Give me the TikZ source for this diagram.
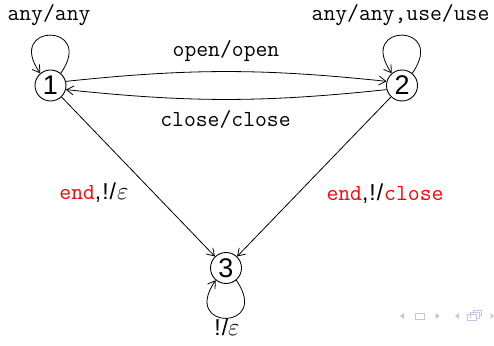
\documentclass[tikz,border=0pt]{standalone}
\usepackage{fontspec}
\setmainfont{Liberation Sans}
\setsansfont{Liberation Sans}
\usetikzlibrary{arrows.meta}
\definecolor{navc}{RGB}{195,195,235}
\newcommand{\punct}[1]{{\sffamily\fontsize{23}{26}\selectfont #1}}
\tikzset{
  state/.style={circle, draw, line width=0.9pt, minimum size=31pt, inner sep=0pt,
    font=\sffamily\fontsize{27}{27}\selectfont},
  lbl/.style={anchor=base, inner sep=0pt, font=\ttfamily\fontsize{23}{26}\selectfont},
  edge/.style={line width=0.8pt, -{Straight Barb[length=7pt,width=9pt]}},
}
\begin{document}
\begin{tikzpicture}[x=1pt,y=1pt]
\useasboundingbox (0,0) rectangle (494,345);
\node[state] (n1) at (50.5,259.5) {1};
\node[state] (n2) at (402,259.5) {2};
\node[state] (n3) at (226,77) {3};
% loops
\draw[edge] (n1.50) .. controls +(55:62pt) and +(125:62pt) .. (n1.130);
\draw[edge] (n2.50) .. controls +(55:62pt) and +(125:62pt) .. (n2.130);
\draw[edge] (n3.-50) .. controls +(-55:62pt) and +(-125:62pt) .. (n3.-130);
% arcs
\draw[edge] (n1.15) to[out=6, in=174] (n2.165);
\draw[edge] (n2.195) to[out=186, in=-6] (n1.-15);
% diagonals
\draw[edge] (n1) -- (n3);
\draw[edge] (n2) -- (n3);
% labels
\node[lbl] (l1) at (49,324) {any/any};
\node[lbl] (l2) at (400.5,324) {any/any,use/use};
\node[lbl] (l3) at (226,288) {open/open};
\node[lbl] (l4) at (225.5,218) {close/close};
\node[lbl] (l5) at (94,145) {\textcolor{red}{end}\punct{,\kern1pt!\kern1pt/}\kern1pt$\varepsilon$};
\node[lbl] (l6) at (385,144) {\textcolor{red}{end}\punct{,\kern1pt!\kern1pt/}\kern1pt\textcolor{red}{close}};
\node[lbl] (l7) at (227,10) {\punct{!\kern1pt/}$\varepsilon$};
% navigation symbols
\fill[navc] (400,29) -- (404,32) -- (404,26) -- cycle;
\draw[navc, line width=0.8pt] (415,26) rectangle (424,32);
\fill[navc] (439.5,29) -- (435.5,32) -- (435.5,26) -- cycle;
\fill[navc] (455,29) -- (459,32) -- (459,26) -- cycle;
\draw[navc, line width=0.8pt] (467,24.5) rectangle (476,30.5);
\draw[navc, line width=0.8pt] (470,27.5) -- (470,33) -- (479,33) -- (479,27) -- (476,27);
\draw[navc, line width=0.8pt] (473,33) -- (473,35) -- (481.5,35) -- (481.5,29.5) -- (479,29.5);
\fill[navc] (494,29) -- (490.5,32) -- (490.5,26) -- cycle;
\end{tikzpicture}
\end{document}
